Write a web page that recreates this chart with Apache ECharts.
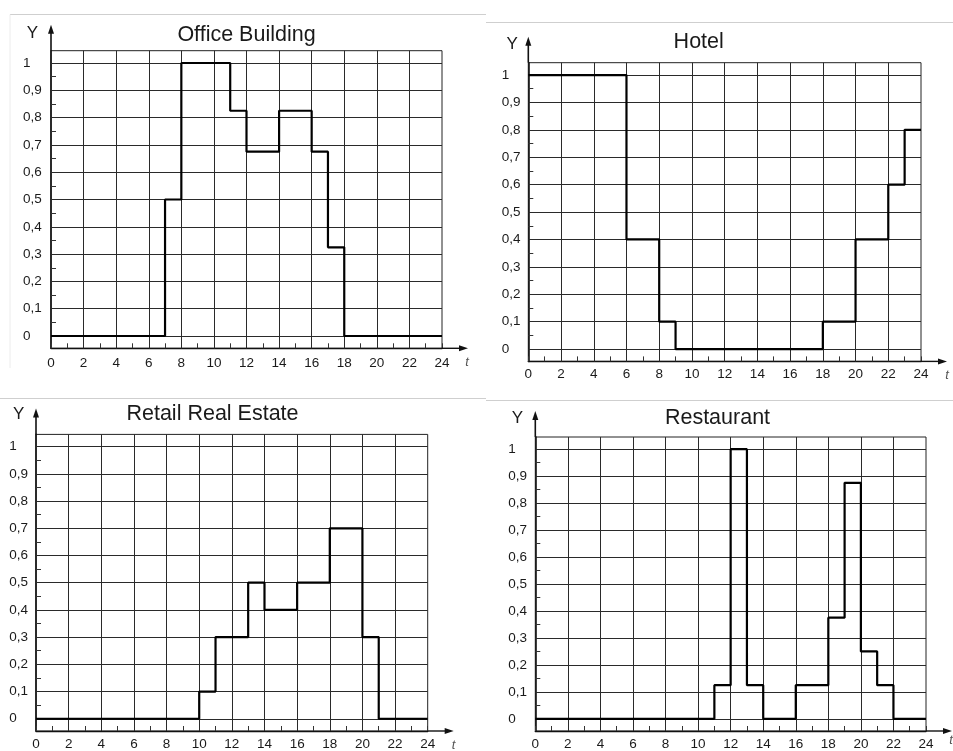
<!DOCTYPE html>
<html><head><meta charset="utf-8">
<script src="https://cdn.jsdelivr.net/npm/echarts@6/dist/echarts.min.js"></script>
<style>html,body{margin:0;padding:0;background:#fff}#c{width:953px;height:751px}</style>
</head><body><div id="c"></div>
<script>
// ---- data ----
const hours = [0,1,2,3,4,5,6,7,8,9,10,11,12,13,14,15,16,17,18,19,20,21,22,23];
const officeBuilding   = [0,0,0,0,0,0,0,0.5,1,1,1,0.825,0.675,0.675,0.825,0.825,0.675,0.325,0,0,0,0,0,0];
const hotel            = [1,1,1,1,1,1,0.4,0.4,0.1,0,0,0,0,0,0,0,0,0,0.1,0.1,0.4,0.4,0.6,0.8];
const retailRealEstate = [0,0,0,0,0,0,0,0,0,0,0.1,0.3,0.3,0.5,0.4,0.4,0.5,0.5,0.7,0.7,0.3,0,0,0];
const restaurant       = [0,0,0,0,0,0,0,0,0,0,0,0.125,1,0.125,0,0,0.125,0.125,0.375,0.875,0.25,0.125,0,0];
const titles = ['Office Building','Hotel','Retail Real Estate','Restaurant'];
const xTickLabels = [0,2,4,6,8,10,12,14,16,18,20,22,24];
const yTickLabels = [0,0.1,0.2,0.3,0.4,0.5,0.6,0.7,0.8,0.9,1];
const yMinorTicks = [0.05,0.15,0.25,0.35,0.45,0.55,0.65,0.75,0.85,0.95];
const xGridLines = [2,4,6,8,10,12,14,16,18,20,22];
const yMin = -0.045, yMax = 1.045, xMin = 0, xMax = 24;

const allValues = [officeBuilding, hotel, retailRealEstate, restaurant];

// ---- layout ----
const layout = [
  {left:51,    top:50.7,  width:391,   height:297.6, my:28,   mx:8, title:[246.5,35],   yName:[32.5,33],  tName:[467,362]},
  {left:528.3, top:62.7,  width:392.7, height:298.7, my:26.6, mx:6, title:[698.7,42],   yName:[512.2,44], tName:[947,375]},
  {left:36,    top:434.4, width:391.7, height:297.9, my:26.7, mx:6, title:[212.5,414],  yName:[18.7,414.5], tName:[453.5,745]},
  {left:535.3, top:437,   width:390.7, height:297.6, my:27,   mx:6, title:[717.5,418],  yName:[517.5,418.5], tName:[951,740]}
];
const FONT = '"Liberation Sans", Arial, sans-serif';
const INK = '#1a1a1a';

const fmtY = v => String(Math.round(v * 10) / 10).replace('.', ',');

const chart = echarts.init(document.getElementById('c'), null, {renderer: 'canvas'});

const option = {
  animation: false,
  backgroundColor: '#fff',
  grid: layout.map(l => ({left: l.left, top: l.top, width: l.width, height: l.height,
    show: true, borderColor: '#222', borderWidth: 1, backgroundColor: 'transparent', containLabel: false})),
  xAxis: layout.map((l, i) => ({
    type: 'value', gridIndex: i, min: xMin, max: xMax, interval: 1,
    axisLine: {show: true, onZero: false, lineStyle: {color: '#111', width: 1.4}},
    axisTick: {show: true, inside: true, length: 5, lineStyle: {color: '#333', width: 1}},
    axisLabel: {show: true, customValues: xTickLabels, margin: l.mx, fontSize: 13.5, color: INK, fontFamily: FONT},
    splitLine: {show: false}
  })),
  yAxis: layout.map((l, i) => ({
    type: 'value', gridIndex: i, min: yMin, max: yMax,
    axisLine: {show: true, onZero: false, lineStyle: {color: '#111', width: 1.6}},
    axisTick: {show: true, inside: true, length: 5, customValues: yMinorTicks, lineStyle: {color: '#333', width: 1}},
    axisLabel: {show: true, customValues: yTickLabels, formatter: fmtY, align: 'left', margin: l.my,
      fontSize: 13.5, color: INK, fontFamily: FONT},
    splitLine: {show: false}
  })),
  series: allValues.map((vals, i) => ({
    type: 'line', name: titles[i], xAxisIndex: i, yAxisIndex: i, step: 'end',
    showSymbol: false, symbol: 'none', z: 5,
    lineStyle: {color: '#000', width: 2.2},
    data: hours.map((h, k) => [h, vals[k]]).concat([[xMax, vals[vals.length - 1]]]),
    markLine: {
      silent: true, symbol: ['none', 'none'], label: {show: false}, animation: false,
      lineStyle: {color: '#2a2a2a', width: 1, type: 'solid'},
      emphasis: {disabled: true},
      data: yTickLabels.map(v => ({yAxis: v})).concat(xGridLines.map(v => ({xAxis: v})))
    }
  }))
};
chart.setOption(option);

// ---- decorations: axis arrows, titles, axis names, panel frames ----
const g = [];
const ARROW = 26;
layout.forEach((l, i) => {
  const o = chart.convertToPixel({gridIndex: i}, [xMax, yMin]);
  const t = chart.convertToPixel({gridIndex: i}, [xMin, yMax]);
  g.push({type: 'line', shape: {x1: o[0], y1: o[1], x2: o[0] + ARROW - 4, y2: o[1]}, style: {stroke: '#111', lineWidth: 1.4}, z: 10});
  g.push({type: 'polygon', shape: {points: [[o[0] + ARROW, o[1]], [o[0] + ARROW - 9, o[1] - 3], [o[0] + ARROW - 9, o[1] + 3]]}, style: {fill: '#111'}, z: 10});
  g.push({type: 'line', shape: {x1: t[0], y1: t[1], x2: t[0], y2: t[1] - ARROW + 4}, style: {stroke: '#111', lineWidth: 1.6}, z: 10});
  g.push({type: 'polygon', shape: {points: [[t[0], t[1] - ARROW], [t[0] - 3, t[1] - ARROW + 9], [t[0] + 3, t[1] - ARROW + 9]]}, style: {fill: '#111'}, z: 10});
  g.push({type: 'text', x: l.title[0], y: l.title[1], style: {text: titles[i], fontSize: 21.5, fontFamily: FONT, fill: INK, align: 'center', verticalAlign: 'middle'}, z: 10});
  g.push({type: 'text', x: l.yName[0], y: l.yName[1], style: {text: 'Y', fontSize: 17, fontFamily: FONT, fill: INK, align: 'center', verticalAlign: 'middle'}, z: 10});
  g.push({type: 'text', x: l.tName[0], y: l.tName[1], style: {text: 't', fontSize: 13, fontStyle: 'italic', fontFamily: FONT, fill: '#555', align: 'center', verticalAlign: 'middle'}, z: 10});
});
// faint frames of the four scanned panels
const frame = {stroke: '#cfcfcf', lineWidth: 1};
g.push({type: 'line', shape: {x1: 10, y1: 14.5, x2: 486, y2: 14.5}, style: frame});
g.push({type: 'line', shape: {x1: 10, y1: 14.5, x2: 10, y2: 368}, style: {stroke: '#ececec', lineWidth: 1}});
g.push({type: 'line', shape: {x1: 486, y1: 22.5, x2: 953, y2: 22.5}, style: frame});
g.push({type: 'line', shape: {x1: 0, y1: 398.5, x2: 486, y2: 398.5}, style: frame});
g.push({type: 'line', shape: {x1: 486, y1: 400.5, x2: 953, y2: 400.5}, style: frame});
chart.setOption({graphic: g});
</script>
</body></html>
